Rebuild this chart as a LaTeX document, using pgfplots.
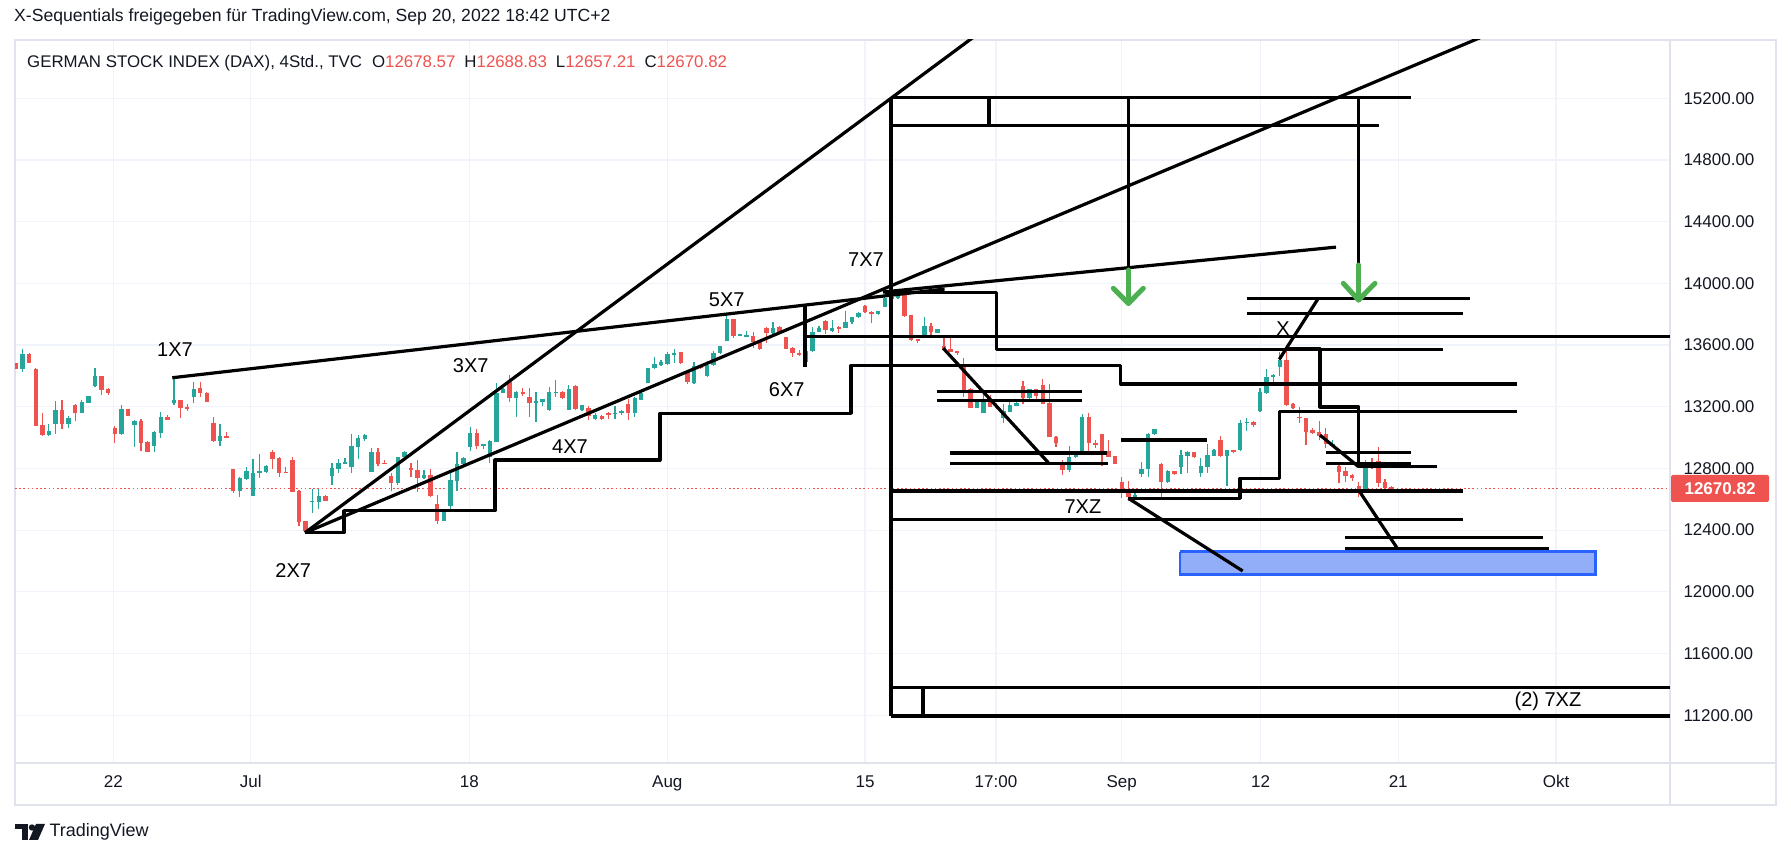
\documentclass[border=0pt]{standalone}
\usepackage{pgfplots}
\pgfplotsset{compat=1.18}
\usepackage{pgfplotstable}
\usepackage{fontspec}
\setmainfont{Liberation Sans}
\definecolor{tvgreen}{RGB}{38,166,154}
\definecolor{tvred}{RGB}{239,83,80}
\definecolor{tvgrid}{RGB}{240,243,250}
\definecolor{tvborder}{RGB}{224,227,235}
\definecolor{tvtext}{RGB}{19,23,34}
\definecolor{arrowgreen}{RGB}{76,175,80}
\definecolor{rectblue}{RGB}{41,98,255}
\definecolor{rectfill}{RGB}{146,174,248}

\pgfplotstableread{
i o h l c
0 13481 13485 13445 13447
1 13447 13574 13427 13542
2 13542 13546 13481 13486
3 13444 13449 13075 13077
4 13081 13161 13010 13017
5 13017 13088 13012 13043
6 13088 13237 13023 13179
7 13179 13243 13055 13088
8 13088 13140 13062 13125
9 13211 13215 13107 13161
10 13161 13243 13158 13228
11 13226 13272 13222 13269
12 13334 13451 13330 13399
13 13399 13402 13276 13308
14 13315 13319 13276 13291
15 13060 13075 12967 13025
16 13023 13211 13020 13183
17 13183 13186 13140 13142
18 13084 13114 12941 13107
19 13107 13118 12911 12967
20 12973 12980 12905 12909
21 12947 13040 12909 13036
22 13032 13168 12999 13131
23 13131 13146 13112 13114
24 13222 13388 13211 13243
25 13243 13246 13129 13194
26 13200 13215 13174 13185
27 13265 13358 13226 13315
28 13323 13358 13261 13287
29 13291 13297 13228 13233
30 13097 13131 12973 12980
31 12980 13088 12945 13010
32 13010 13034 12996 12999
33 12796 12799 12643 12654
34 12656 12746 12617 12740
35 12731 12811 12725 12783
36 12623 12861 12620 12768
37 12768 12893 12740 12783
38 12779 12822 12772 12816
39 12906 12919 12798 12863
40 12867 12876 12746 12772
41 12777 12809 12770 12772
42 12855 12872 12645 12649
43 12656 12660 12429 12455
44 12459 12462 12383 12394
45 12584 12664 12513 12589
46 12584 12664 12535 12621
47 12621 12626 12589 12591
48 12751 12837 12692 12805
49 12794 12863 12768 12837
50 12829 12865 12827 12839
51 12811 13023 12768 12945
52 12941 13017 12859 12995
53 12993 13020 12978 13017
54 12779 12930 12776 12904
55 12908 12930 12816 12829
56 12835 12855 12829 12831
57 12751 12772 12656 12708
58 12708 12875 12692 12872
59 12872 12911 12870 12908
60 12805 12833 12746 12790
61 12790 12855 12649 12736
62 12736 12790 12733 12755
63 12755 12794 12617 12621
64 12569 12628 12437 12459
65 12459 12530 12457 12520
66 12558 12768 12537 12725
67 12721 12908 12656 12829
68 12826 12872 12824 12870
69 12937 13071 12915 13032
70 13032 13053 12924 12947
71 12945 12958 12924 12956
72 12876 12984 12833 12978
73 12973 13356 12970 13291
74 13291 13319 13288 13313
75 13362 13406 13233 13259
76 13259 13302 13135 13295
77 13295 13323 13269 13280
78 13261 13319 13135 13226
79 13228 13293 13103 13237
80 13233 13250 13207 13248
81 13179 13330 13174 13293
82 13293 13373 13265 13297
83 13293 13302 13252 13254
84 13179 13338 13179 13315
85 13334 13341 13179 13183
86 13179 13214 13174 13211
87 13194 13205 13114 13140
88 13118 13157 13114 13146
89 13142 13146 13114 13118
90 13161 13168 13118 13146
91 13153 13205 13118 13161
92 13157 13179 13146 13172
93 13218 13248 13114 13161
94 13161 13265 13131 13254
95 13244 13298 13241 13291
96 13356 13453 13352 13449
97 13449 13524 13445 13475
98 13470 13503 13466 13492
99 13475 13557 13472 13542
100 13540 13572 13481 13546
101 13553 13557 13477 13481
102 13423 13438 13345 13358
103 13352 13492 13349 13464
104 13464 13470 13445 13449
105 13399 13498 13395 13470
106 13470 13563 13467 13550
107 13546 13596 13543 13594
108 13628 13805 13625 13766
109 13766 13769 13643 13661
110 13665 13674 13658 13671
111 13658 13693 13650 13665
112 13658 13686 13578 13622
113 13622 13626 13568 13574
114 13712 13719 13615 13680
115 13676 13747 13671 13712
116 13719 13723 13676 13682
117 13650 13654 13572 13574
118 13578 13585 13524 13546
119 13550 13568 13532 13535
120 13488 13589 13460 13561
121 13561 13719 13557 13687
122 13687 13723 13684 13712
123 13758 13762 13671 13697
124 13691 13762 13687 13712
125 13719 13722 13676 13702
126 13712 13820 13709 13747
127 13747 13784 13736 13779
128 13779 13816 13776 13805
129 13853 13859 13810 13812
130 13816 13819 13745 13799
131 13799 13823 13796 13820
132 13849 13946 13846 13903
133 13909 13924 13833 13903
134 13903 13924 13900 13918
135 13935 13939 13779 13790
136 13795 13798 13629 13632
137 13639 13642 13615 13628
138 13654 13784 13650 13723
139 13723 13741 13665 13682
140 13680 13705 13676 13702
141 13594 13665 13565 13568
142 13574 13654 13554 13557
143 13561 13564 13535 13546
144 13477 13514 13265 13308
145 13315 13323 13190 13194
146 13194 13248 13191 13239
147 13161 13302 13158 13239
148 13237 13276 13197 13200
149 13205 13222 13183 13196
150 13129 13215 13092 13172
151 13168 13233 13165 13211
152 13207 13248 13204 13226
153 13334 13367 13215 13259
154 13259 13318 13233 13315
155 13313 13318 13248 13272
156 13341 13378 13215 13218
157 13226 13345 13002 13006
158 13006 13009 12941 12967
159 12844 12855 12757 12790
160 12790 12945 12779 12876
161 12872 12902 12869 12893
162 12915 13153 12912 13135
163 13135 13157 12891 12963
164 12963 12984 12930 12956
165 13023 13026 12818 12909
166 12913 12984 12873 12876
167 12880 12883 12826 12829
168 12714 12747 12610 12649
169 12654 12718 12591 12617
170 12617 12660 12606 12628
171 12764 12839 12742 12796
172 12796 13027 12746 13023
173 13021 13056 13018 13053
174 12829 12832 12617 12710
175 12710 12790 12703 12783
176 12783 12786 12759 12762
177 12807 12919 12764 12887
178 12883 12912 12772 12909
179 12904 12909 12865 12872
180 12768 12865 12742 12816
181 12811 12956 12768 12887
182 12883 12926 12880 12919
183 12984 13012 12872 12883
184 12883 12922 12688 12919
185 12919 12922 12901 12904
186 12919 13114 12916 13097
187 13097 13125 13045 13101
188 13101 13107 13071 13081
189 13172 13323 13169 13293
190 13291 13444 13280 13391
191 13395 13410 13356 13406
192 13455 13557 13399 13503
193 13503 13568 13205 13211
194 13218 13222 13185 13190
195 13136 13196 13097 13125
196 13125 13128 12952 13038
197 13049 13060 13024 13027
198 13038 13107 12984 13012
199 13023 13060 12930 12956
200 12952 12984 12941 12958
201 12816 12819 12703 12779
202 12783 12811 12714 12753
203 12757 12762 12721 12740
204 12686 12714 12617 12649
205 12649 12855 12646 12844
206 12844 12865 12796 12801
207 12848 12937 12682 12708
208 12714 12729 12645 12675
209 12678.57 12688.83 12657.21 12670.82
}\candles

\pgfplotsset{
  dr/.style={black, line width=3.2pt, forget plot, mark=none, line join=round},
  arr/.style={arrowgreen, line width=5pt, forget plot, mark=none, line cap=round, line join=round},
  candle/.style 2 args={draw=none, mark=none, forget plot, error bars/.cd, y dir=both, y explicit, error mark=none,
    error bar style={draw=#1, line width=#2}},
}
\tikzset{lbl/.style={font=\fontsize{20}{22}\selectfont, text=black}}

\begin{document}
\begin{tikzpicture}
\useasboundingbox (0,0) rectangle (1791pt,858pt);
\fill[white] (0,0) rectangle (1791pt,858pt);
% pane borders
\draw[tvborder, line width=1.5pt] (15pt,53pt) rectangle (1776pt,818pt);
\draw[tvborder, line width=1.5pt] (1670pt,53pt) -- (1670pt,818pt);
\draw[tvborder, line width=1.5pt] (15pt,95pt) -- (1776pt,95pt);

\begin{axis}[
  at={(15pt,95pt)}, anchor=south west,
  scale only axis, width=1655pt, height=723pt,
  xmin=-0.15, xmax=251.29, ymin=10890, ymax=15578,
  clip mode=individual,
  axis line style={draw=tvborder, line width=1.5pt},
  xtick={14.78,35.66,68.87,98.95,128.99,148.89,167.99,189.1,210.0,233.97},
  xticklabels={22,Jul,18,Aug,15,17:00,Sep,12,21,Okt},
  ytick={11200,11600,12000,12400,12800,13200,13600,14000,14400,14800,15200},
  scaled y ticks=false,
  yticklabel pos=right,
  yticklabel={\pgfmathprintnumber[fixed,fixed zerofill,precision=2,1000 sep={}]{\tick}},
  /pgf/number format/assume math mode=true,
  major tick length=0pt,
  grid=major, major grid style={draw=tvgrid, line width=1.2pt},
  ticklabel style={font=\fontsize{17}{19}\selectfont, text=tvtext},
  yticklabel style={anchor=west, xshift=10pt},
  xticklabel style={yshift=-9pt},
]
% last price line
\addplot[tvred, line width=1.2pt, dash pattern=on 1.5pt off 2.7pt, forget plot] coordinates {(-0.15,12670.82) (251.29,12670.82)};

% wicks
\addplot[candle={tvgreen}{1.2pt}]
  table[x expr={\thisrow{c}>=\thisrow{o} ? \thisrow{i} : nan}, y expr={(\thisrow{h}+\thisrow{l})/2}, y error expr={(\thisrow{h}-\thisrow{l})/2}] {\candles};
\addplot[candle={tvred}{1.2pt}]
  table[x expr={\thisrow{c}<\thisrow{o} ? \thisrow{i} : nan}, y expr={(\thisrow{h}+\thisrow{l})/2}, y error expr={(\thisrow{h}-\thisrow{l})/2}] {\candles};
% bodies
\addplot[candle={tvgreen}{4.4pt}]
  table[x expr={\thisrow{c}>=\thisrow{o} ? \thisrow{i} : nan}, y expr={(\thisrow{o}+\thisrow{c})/2}, y error expr={max(abs(\thisrow{c}-\thisrow{o})/2,3.5)}] {\candles};
\addplot[candle={tvred}{4.4pt}]
  table[x expr={\thisrow{c}<\thisrow{o} ? \thisrow{i} : nan}, y expr={(\thisrow{o}+\thisrow{c})/2}, y error expr={max(abs(\thisrow{c}-\thisrow{o})/2,3.5)}] {\candles};

% trend lines
\addplot[dr] coordinates {(23.75,13388) (141.08,13963)};
\addplot[dr] coordinates {(131.72,13944) (200.55,14235)};
\addplot[dr] coordinates {(43.91,12383) (150,15740)};
\addplot[dr] coordinates {(43.91,12383) (230,15729)};
% steps
\addplot[dr] coordinates {(43.91,12383) (49.83,12383) (49.83,12526) (72.77,12526) (72.77,12854) (97.84,12854) (97.84,13157) (126.86,13157) (126.86,13466) (167.84,13466) (167.84,13347) (228.0,13347)};
\addplot[dr] coordinates {(119.87,13857) (119.87,13460)};
\addplot[dr] coordinates {(119.87,13654) (251.3,13654)};
\addplot[dr] coordinates {(132.02,13940) (149.00,13940) (149.00,13573) (216.80,13573)};
\addplot[dr] coordinates {(193.00,13574) (198.12,13574) (198.12,13198) (203.97,13198) (203.97,12813) (215.85,12813)};
\addplot[dr] coordinates {(169.01,12606) (185.96,12606) (185.96,12736) (191.93,12736) (191.93,13168) (228.00,13168)};
% top box
\addplot[dr] coordinates {(132.94,15205) (211.94,15205)};
\addplot[dr] coordinates {(132.94,15023) (207.08,15023)};
\addplot[dr] coordinates {(132.94,15205) (132.94,11194.5)};
\addplot[dr] coordinates {(147.83,15205) (147.83,15023)};
\addplot[dr] coordinates {(169.01,15205) (169.01,14086)};
\addplot[dr] coordinates {(203.97,15205) (203.97,14119)};
% bottom box
\addplot[dr] coordinates {(132.94,11379) (251.3,11379)};
\addplot[dr] coordinates {(132.94,11194.5) (251.3,11194.5)};
\addplot[dr] coordinates {(137.80,11379) (137.80,11194.5)};
% horizontals
\addplot[dr] coordinates {(132.94,12653) (219.77,12653)};
\addplot[dr] coordinates {(132.94,12467) (219.77,12467)};
\addplot[dr] coordinates {(201.91,12351) (231.95,12351)};
\addplot[dr] coordinates {(201.91,12282) (232.95,12282)};
\addplot[dr] coordinates {(186.98,13903) (220.91,13903)};
\addplot[dr] coordinates {(186.98,13806) (219.88,13806)};
\addplot[dr] coordinates {(199.03,12904) (211.90,12904)};
\addplot[dr] coordinates {(199.03,12833) (211.90,12833)};
\addplot[dr] coordinates {(139.88,13297) (161.91,13297)};
\addplot[dr] coordinates {(139.88,13239) (161.91,13239)};
\addplot[dr] coordinates {(141.90,12900) (165.71,12900)};
\addplot[dr] coordinates {(141.90,12833) (165.86,12833)};
\addplot[dr] coordinates {(167.88,12984) (180.90,12984)};
% target zone
\addplot[fill=rectfill, draw=rectblue, line width=2.5pt, forget plot] coordinates {(176.84,12260) (240.0,12260) (240.0,12112) (176.84,12112) (176.84,12260)};
% diagonals
\addplot[dr] coordinates {(140.88,13579) (156.85,12837)};
\addplot[dr] coordinates {(169.01,12606) (186.37,12135)};
\addplot[dr] coordinates {(198.12,13016) (203.97,12811)};
\addplot[dr] coordinates {(203.97,12660) (209.77,12288)};
\addplot[dr] coordinates {(191.93,13507) (197.86,13903)};
% arrows
\addplot[arr] coordinates {(169.01,14086) (169.01,13870)};
\addplot[arr] coordinates {(166.71,13968) (169.01,13870) (171.27,13968)};
\addplot[arr] coordinates {(203.97,14119) (203.97,13892)};
\addplot[arr] coordinates {(201.66,14000) (203.97,13892) (206.47,14000)};

% labels
\node[lbl] at (axis cs:24.16,13572) {1X7};
\node[lbl] at (axis cs:42.13,12137) {2X7};
\node[lbl] at (axis cs:69.08,13464) {3X7};
\node[lbl] at (axis cs:84.17,12941) {4X7};
\node[lbl] at (axis cs:107.98,13892) {5X7};
\node[lbl] at (axis cs:117.09,13308) {6X7};
\node[lbl] at (axis cs:129.14,14151) {7X7};
\node[lbl] at (axis cs:162.10,12550) {7XZ};
\node[lbl] at (axis cs:192.49,13704) {X};
\node[lbl] at (axis cs:232.75,11292) {(2) 7XZ};
\end{axis}

% header texts
\node[anchor=west, inner sep=0pt, font=\fontsize{17.6}{20}\selectfont, text=tvtext] at (14pt,841pt)
  {X-Sequentials freigegeben für TradingView.com, Sep 20, 2022 18:42 UTC+2};
\node[anchor=west, inner sep=0pt, font=\fontsize{16.85}{20}\selectfont, text=tvtext] at (27pt,795pt)
  {GERMAN STOCK INDEX (DAX), 4Std., TVC\hspace{10pt}O\textcolor{tvred}{12678.57}\hspace{9pt}H\textcolor{tvred}{12688.83}\hspace{9pt}L\textcolor{tvred}{12657.21}\hspace{9pt}C\textcolor{tvred}{12670.82}};
% price tag
\node[fill=tvred, text=white, rounded corners=2pt, minimum width=98pt, minimum height=27pt, inner sep=0pt,
  font=\fontsize{17}{19}\selectfont\bfseries] at (1720pt,369.5pt) {12670.82};
% logo
\fill[tvtext] (15pt,34pt) rectangle (28pt,29pt);
\fill[tvtext] (22pt,34pt) rectangle (28pt,18pt);
\fill[tvtext] (32pt,30.5pt) circle (3.2pt);
\fill[tvtext] (36pt,34pt) -- (45pt,34pt) -- (38pt,18pt) -- (29pt,18pt) -- cycle;
\node[anchor=west, font=\fontsize{18}{20}\selectfont, text=tvtext] at (46pt,26pt) {TradingView};
\end{tikzpicture}
\end{document}
